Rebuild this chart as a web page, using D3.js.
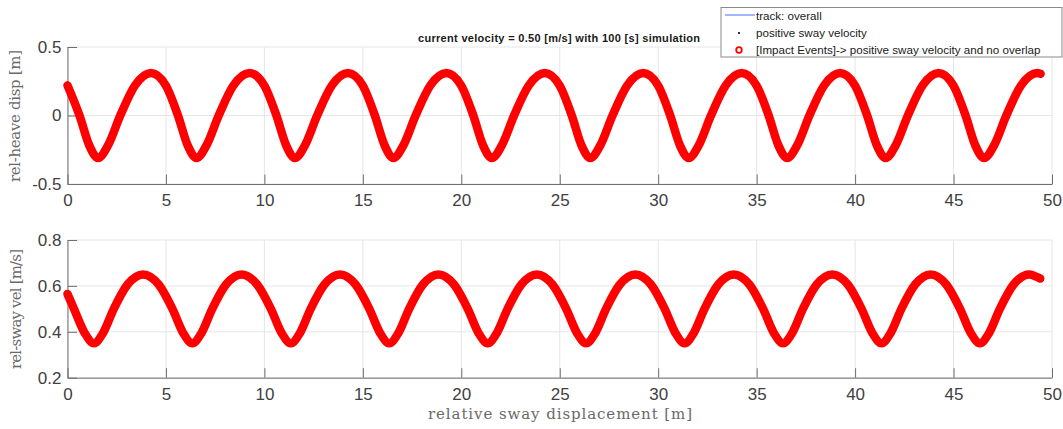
<!DOCTYPE html>
<html>
<head>
<meta charset="utf-8">
<script src="https://cdn.jsdelivr.net/npm/d3@7"></script>
<style>
  body { margin: 0; background: #fff; }
  svg { display: block; }
</style>
</head>
<body>
<div class="chart"></div>
<script>
// values
var xTicks = [0, 5, 10, 15, 20, 25, 30, 35, 40, 45, 50];
var heaveTicks = [-0.5, 0, 0.5];
var heaveTickLabels = ["-0.5", "0", "0.5"];
var velTicks = [0.2, 0.4, 0.6, 0.8];
var velTickLabels = ["0.2", "0.4", "0.6", "0.8"];

var heaveX = [0, 0.61, 1.11, 1.55, 2.05, 2.68, 3.43,
  4.24, 4.99, 5.61, 6.11, 6.55, 7.05, 7.68, 8.43,
  9.24, 9.99, 10.61, 11.11, 11.55, 12.05, 12.68, 13.43,
  14.24, 14.99, 15.61, 16.11, 16.55, 17.05, 17.68, 18.43,
  19.24, 19.99, 20.61, 21.11, 21.55, 22.05, 22.68, 23.43,
  24.24, 24.99, 25.61, 26.11, 26.55, 27.05, 27.68, 28.43,
  29.24, 29.99, 30.61, 31.11, 31.55, 32.05, 32.68, 33.43,
  34.24, 34.99, 35.61, 36.11, 36.55, 37.05, 37.68, 38.43,
  39.24, 39.99, 40.61, 41.11, 41.55, 42.05, 42.68, 43.43,
  44.24, 44.99, 45.61, 46.11, 46.55, 47.05, 47.68, 48.43,
  49.24, 49.42];
var heaveY = [0.22, 0, -0.22, -0.31, -0.22, 0, 0.22,
  0.31, 0.22, 0, -0.22, -0.31, -0.22, 0, 0.22,
  0.31, 0.22, 0, -0.22, -0.31, -0.22, 0, 0.22,
  0.31, 0.22, 0, -0.22, -0.31, -0.22, 0, 0.22,
  0.31, 0.22, 0, -0.22, -0.31, -0.22, 0, 0.22,
  0.31, 0.22, 0, -0.22, -0.31, -0.22, 0, 0.22,
  0.31, 0.22, 0, -0.22, -0.31, -0.22, 0, 0.22,
  0.31, 0.22, 0, -0.22, -0.31, -0.22, 0, 0.22,
  0.31, 0.22, 0, -0.22, -0.31, -0.22, 0, 0.22,
  0.31, 0.22, 0, -0.22, -0.31, -0.22, 0, 0.22,
  0.31, 0.305];

var velX = [0, 0.33, 0.88, 1.34, 1.80, 2.35, 3.05,
  3.84, 4.63, 5.33, 5.88, 6.34, 6.80, 7.35, 8.05,
  8.84, 9.63, 10.33, 10.88, 11.34, 11.80, 12.35, 13.05,
  13.84, 14.63, 15.33, 15.88, 16.34, 16.80, 17.35, 18.05,
  18.84, 19.63, 20.33, 20.88, 21.34, 21.80, 22.35, 23.05,
  23.84, 24.63, 25.33, 25.88, 26.34, 26.80, 27.35, 28.05,
  28.84, 29.63, 30.33, 30.88, 31.34, 31.80, 32.35, 33.05,
  33.84, 34.63, 35.33, 35.88, 36.34, 36.80, 37.35, 38.05,
  38.84, 39.63, 40.33, 40.88, 41.34, 41.80, 42.35, 43.05,
  43.84, 44.63, 45.33, 45.88, 46.34, 46.80, 47.35, 48.05,
  48.84, 49.40];
var velY = [0.565, 0.5, 0.394, 0.35, 0.394, 0.5, 0.606,
  0.65, 0.606, 0.5, 0.394, 0.35, 0.394, 0.5, 0.606,
  0.65, 0.606, 0.5, 0.394, 0.35, 0.394, 0.5, 0.606,
  0.65, 0.606, 0.5, 0.394, 0.35, 0.394, 0.5, 0.606,
  0.65, 0.606, 0.5, 0.394, 0.35, 0.394, 0.5, 0.606,
  0.65, 0.606, 0.5, 0.394, 0.35, 0.394, 0.5, 0.606,
  0.65, 0.606, 0.5, 0.394, 0.35, 0.394, 0.5, 0.606,
  0.65, 0.606, 0.5, 0.394, 0.35, 0.394, 0.5, 0.606,
  0.65, 0.606, 0.5, 0.394, 0.35, 0.394, 0.5, 0.606,
  0.65, 0.606, 0.5, 0.394, 0.35, 0.394, 0.5, 0.606,
  0.65, 0.632];

var legendLabels = ["track: overall", "positive sway velocity",
  "[Impact Events]-> positive sway velocity and no overlap"];
var title = "current velocity = 0.50 [m/s] with 100 [s] simulation";

var width = 1063;
var height = 429;

var svg = d3.select(".chart").append("svg")
    .attr("width", width)
    .attr("height", height);

var x = d3.scaleLinear().domain([0, 50]).range([67.5, 1052]);
var yHeave = d3.scaleLinear().domain([-0.5, 0.5]).range([184, 47]);
var yVel = d3.scaleLinear().domain([0.2, 0.8]).range([377.7, 240]);

var tickFont = "Liberation Sans, Arial, sans-serif";
var serif = "DejaVu Serif, serif";

var drawPanel = function(y, ticks, tickLabels, xs, ys) {
  var g = svg.append("g");

  // grid
  g.selectAll(".vgrid").data(xTicks).enter().append("line")
      .attr("x1", function(d) { return x(d); })
      .attr("x2", function(d) { return x(d); })
      .attr("y1", y.range()[0])
      .attr("y2", y.range()[1])
      .attr("stroke", "#e6e6e6");
  g.selectAll(".hgrid").data(ticks).enter().append("line")
      .attr("x1", x.range()[0])
      .attr("x2", x.range()[1])
      .attr("y1", function(d) { return y(d); })
      .attr("y2", function(d) { return y(d); })
      .attr("stroke", "#e6e6e6");

  var xAxis = g.append("g")
      .attr("transform", "translate(0," + y.range()[0] + ")")
      .call(d3.axisBottom(x).tickValues(xTicks).tickFormat(d3.format("d"))
        .tickSizeInner(-9.5).tickSizeOuter(0).tickPadding(10));
  var yAxis = g.append("g")
      .attr("transform", "translate(" + x.range()[0] + ",0)")
      .call(d3.axisLeft(y).tickValues(ticks)
        .tickFormat(function(d, i) { return tickLabels[i]; })
        .tickSizeInner(-9.5).tickSizeOuter(0).tickPadding(6));

  [xAxis, yAxis].forEach(function(a) {
    a.select(".domain").attr("stroke", "#6e6e6e");
    a.selectAll(".tick line").attr("stroke", "#6e6e6e");
    a.selectAll("text")
      .attr("fill", "#404040")
      .style("font-family", tickFont)
      .style("font-size", "17px");
  });

  var pts = xs.map(function(d, i) { return [d, ys[i]]; });
  var line = d3.line()
      .x(function(d) { return x(d[0]); })
      .y(function(d) { return y(d[1]); })
      .curve(d3.curveMonotoneX);

  // thin track underneath, then the dense red markers
  g.append("path").datum(pts)
      .attr("d", line)
      .attr("fill", "none")
      .attr("stroke", "#0000ff")
      .attr("stroke-width", 0.8);
  g.append("path").datum(pts)
      .attr("d", line)
      .attr("fill", "none")
      .attr("stroke", "#ff0000")
      .attr("stroke-width", 8.5)
      .attr("stroke-linecap", "round")
      .attr("stroke-linejoin", "round");
};

drawPanel(yHeave, heaveTicks, heaveTickLabels, heaveX, heaveY);
drawPanel(yVel, velTicks, velTickLabels, velX, velY);

// axis labels
svg.append("text")
    .attr("transform", "translate(20,116) rotate(-90)")
    .attr("text-anchor", "middle")
    .attr("textLength", 132)
    .attr("fill", "#6a6a6a")
    .style("font-family", serif)
    .style("font-size", "15px")
    .text("rel-heave disp [m]");
svg.append("text")
    .attr("transform", "translate(21,309) rotate(-90)")
    .attr("text-anchor", "middle")
    .attr("textLength", 120)
    .attr("fill", "#6a6a6a")
    .style("font-family", serif)
    .style("font-size", "15px")
    .text("rel-sway vel [m/s]");
svg.append("text")
    .attr("x", 560)
    .attr("y", 419)
    .attr("text-anchor", "middle")
    .attr("textLength", 264)
    .attr("fill", "#6a6a6a")
    .style("font-family", serif)
    .style("font-size", "15px")
    .text("relative sway displacement [m]");

// title
svg.append("text")
    .attr("x", 559)
    .attr("y", 42)
    .attr("text-anchor", "middle")
    .attr("textLength", 282)
    .attr("fill", "#1a1a1a")
    .style("font-family", tickFont)
    .style("font-weight", "bold")
    .style("font-size", "11px")
    .text(title);

// legend
var lg = svg.append("g");
lg.append("rect")
    .attr("x", 721).attr("y", 7.5)
    .attr("width", 341).attr("height", 49.5)
    .attr("fill", "#fff")
    .attr("stroke", "#8a8a8a");
lg.append("line")
    .attr("x1", 725).attr("x2", 755)
    .attr("y1", 15).attr("y2", 15)
    .attr("stroke", "#4a6bff").attr("stroke-width", 1);
lg.append("circle")
    .attr("cx", 739).attr("cy", 33).attr("r", 1.1)
    .attr("fill", "#000");
lg.append("circle")
    .attr("cx", 739).attr("cy", 50).attr("r", 2.8)
    .attr("fill", "none")
    .attr("stroke", "#ff0000").attr("stroke-width", 1.8);
lg.selectAll(".lab").data(legendLabels).enter().append("text")
    .attr("x", 756)
    .attr("y", function(d, i) { return 19.5 + i * 17; })
    .attr("fill", "#1a1a1a")
    .style("font-family", tickFont)
    .style("font-size", "11.6px")
    .text(function(d) { return d; });
</script>
</body>
</html>
